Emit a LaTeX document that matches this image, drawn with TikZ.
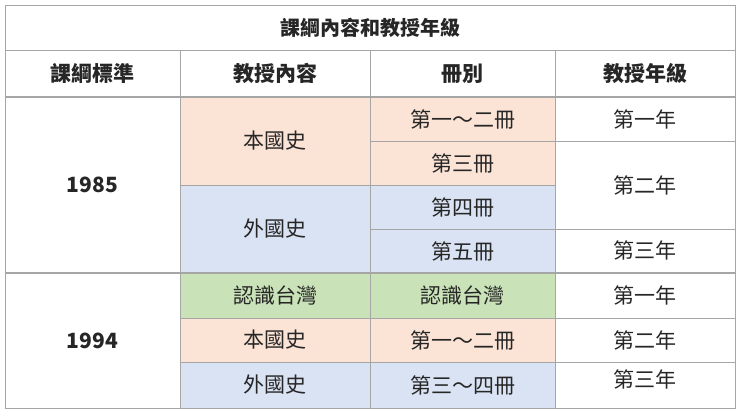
\documentclass[tikz,border=0pt]{standalone}
\usepackage{fontspec}
\setmainfont{Noto Sans CJK TC}
\definecolor{peach}{HTML}{FBE3D6}
\definecolor{lblue}{HTML}{DAE3F3}
\definecolor{lgreen}{HTML}{C9E2B8}
\definecolor{grid}{HTML}{A6A6A6}
\tikzset{cell/.style={draw=grid, line width=0.8pt, inner sep=0pt, font=\fontsize{21}{24}\selectfont, text=black!85}}
\newcommand\mkcell[7]{%
 \pgfmathsetmacro\cx{(#2+#4)/2}\pgfmathsetmacro\cy{(#3+#5)/2}%
 \pgfmathsetmacro\cw{#4-#2}\pgfmathsetmacro\ch{#5-#3}%
 \node[cell, fill=#6, minimum width=\cw pt, minimum height=\ch pt] (#1) at (\cx,\cy) {#7};}
\begin{document}
\begin{tikzpicture}[x=1pt,y=-1pt]
\useasboundingbox (0,0) rectangle (740,411);
\fill[white] (0,0) rectangle (740,411);
\mkcell{title}{5}{5}{735}{50}{white}{\fontsize{20}{24}\selectfont\textbf{課綱內容和教授年級}}
\mkcell{h1}{5}{50}{180}{97}{white}{\textbf{課綱標準}}
\mkcell{h2}{180}{50}{370}{97}{white}{\textbf{教授內容}}
\mkcell{h3}{370}{50}{555}{97}{white}{\textbf{冊別}}
\mkcell{h4}{555}{50}{735}{97}{white}{\textbf{教授年級}}
% 1985
\mkcell{y85}{5}{97}{180}{273}{white}{\textbf{1985}}
\mkcell{a1}{180}{97}{370}{185}{peach}{本國史}
\mkcell{a2}{180}{185}{370}{273}{lblue}{外國史}
\mkcell{b1}{370}{97}{555}{141}{peach}{第一～二冊}
\mkcell{b2}{370}{141}{555}{185}{peach}{第三冊}
\mkcell{b3}{370}{185}{555}{229}{lblue}{第四冊}
\mkcell{b4}{370}{229}{555}{273}{lblue}{第五冊}
\mkcell{c1}{555}{97}{735}{141}{white}{第一年}
\mkcell{c2}{555}{141}{735}{229}{white}{第二年}
\mkcell{c3}{555}{229}{735}{273}{white}{}
\node[font=\fontsize{21}{24}\selectfont, text=black!85] (c3t) at (645,250) {第三年};
% 1994
\mkcell{y94}{5}{273}{180}{408}{white}{\textbf{1994}}
\mkcell{d1}{180}{273}{370}{318}{lgreen}{認識台灣}
\mkcell{d2}{180}{318}{370}{362}{peach}{本國史}
\mkcell{d3}{180}{362}{370}{408}{lblue}{外國史}
\mkcell{e1}{370}{273}{555}{318}{lgreen}{認識台灣}
\mkcell{e2}{370}{318}{555}{362}{peach}{第一～二冊}
\mkcell{e3}{370}{362}{555}{408}{lblue}{第三～四冊}
\mkcell{f1}{555}{273}{735}{318}{white}{第一年}
\mkcell{f2}{555}{318}{735}{362}{white}{第二年}
\mkcell{f3}{555}{362}{735}{408}{white}{}
\node[font=\fontsize{21}{24}\selectfont, text=black!85] (f3t) at (645,379) {第三年};
\draw[grid, line width=1.6pt] (y85.north west) -- (c1.north east);
\draw[grid, line width=1.6pt] (y94.north west) -- (f1.north east);
\end{tikzpicture}
\end{document}
